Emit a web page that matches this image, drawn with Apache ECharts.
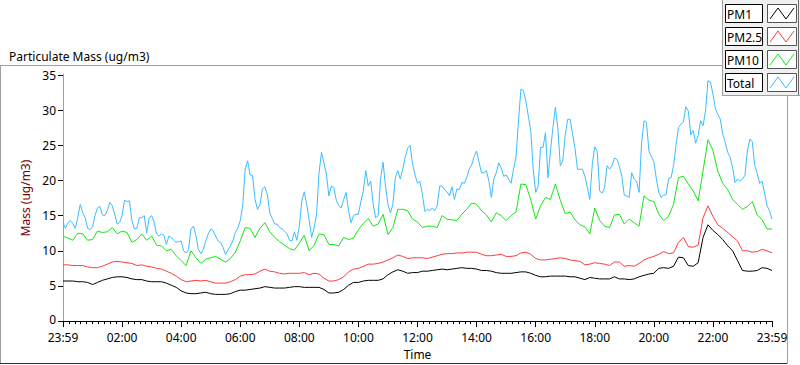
<!DOCTYPE html>
<html>
<head>
<meta charset="utf-8">
<script src="https://cdn.jsdelivr.net/npm/echarts@6/dist/echarts.min.js"></script>
<style>
html,body{margin:0;padding:0;background:#fff;}
#c{width:800px;height:365px;}
</style>
</head>
<body>
<div id="c"></div>
<script>
// ---- data (minutes since start of day, values in ug/m3) ----
var seriesNames = ['PM1', 'PM2.5', 'PM10', 'Total'];
var seriesColors = ['#000000', '#ff3c3c', '#14e614', '#3cbcff'];
var tickLabels = ['23:59','02:00','04:00','06:00','08:00','10:00','12:00','14:00','16:00','18:00','20:00','22:00','23:59'];
var stepPM1 = 10, stepPM25 = 10, stepPM10 = 10, stepTotal = 5;

var pm1 = [5.7,5.7,5.7,5.6,5.6,5.5,5.2,5.5,5.8,6.0,6.2,6.3,6.3,6.2,6.0,5.9,5.9,5.7,5.6,5.6,5.6,5.4,5.1,4.8,4.3,4.0,3.9,3.9,4.0,4.1,3.9,3.8,3.8,3.8,3.9,4.2,
4.4,4.4,4.5,4.6,4.7,4.9,4.8,4.7,4.7,4.7,4.8,4.9,4.9,4.8,4.8,4.8,4.8,4.5,4.0,4.0,4.1,4.5,5.1,5.5,5.5,5.7,5.8,5.8,5.8,6.0,6.6,7.0,7.3,7.1,6.8,6.9,
6.9,7.1,7.1,7.2,7.3,7.4,7.3,7.4,7.5,7.6,7.5,7.5,7.4,7.2,7.2,7.1,6.9,6.8,6.8,6.8,6.9,7.0,7.0,6.8,6.5,6.3,6.3,6.4,6.4,6.4,6.4,6.3,6.3,6.1,5.9,6.2,
6.1,6.0,6.0,6.0,6.3,6.0,6.0,5.9,6.0,6.3,6.5,6.7,6.8,7.5,7.6,7.5,7.8,9.1,9.0,7.9,7.8,8.3,11.9,13.7,12.9,12.3,11.6,10.7,10.0,8.6,7.2,7.1,7.1,7.2,7.6,7.5,7.2];

var pm25 = [8.0,8.0,7.9,7.9,7.9,7.7,7.6,7.6,7.8,8.1,8.4,8.5,8.4,8.3,8.2,7.9,8.0,7.8,7.7,7.5,7.4,7.1,6.8,6.4,5.9,5.6,5.7,5.8,5.7,5.8,5.6,5.4,5.4,5.4,5.6,5.9,
6.4,6.6,6.6,6.7,7.1,7.4,7.1,7.0,6.8,6.7,6.8,6.8,6.8,6.9,6.6,6.8,6.7,6.1,5.7,5.7,5.9,6.3,7.0,7.4,7.5,7.8,8.1,8.1,8.2,8.4,8.7,9.0,9.4,9.2,8.9,9.0,
9.0,9.0,8.9,9.1,9.3,9.5,9.6,9.6,9.7,9.7,9.8,9.8,9.8,9.5,9.3,9.3,9.4,9.5,9.2,9.2,9.3,9.7,9.8,9.5,8.9,8.7,8.7,8.8,8.9,9.0,8.9,8.7,8.6,8.5,8.0,8.1,
8.3,8.2,8.1,7.9,8.4,8.4,7.8,7.9,7.8,8.2,8.7,9.0,9.2,9.5,9.9,9.6,9.7,11.2,11.9,10.6,10.5,10.8,14.7,16.4,14.9,13.7,13.2,12.6,12.0,11.4,10.0,10.0,9.8,9.9,10.2,10.0,9.7];

var pm10 = [12.1,11.8,11.5,12.5,12.4,11.5,11.6,12.8,12.6,12.7,13.3,12.4,12.8,12.6,11.2,11.6,12.4,11.5,12.1,10.8,10.7,10.0,10.2,9.3,8.6,7.9,10.0,9.0,8.2,8.8,9.0,9.2,8.8,8.4,8.9,9.8,
11.4,13.3,13.2,11.9,13.2,14.0,12.7,11.9,11.3,10.8,10.3,10.1,11.1,12.2,10.0,10.8,12.4,12.3,10.9,10.9,10.7,11.9,11.6,11.8,13.0,13.9,14.6,13.5,13.8,15.2,12.3,13.3,15.9,15.9,15.7,14.5,
14.1,13.3,13.5,13.5,13.3,15.0,14.5,14.4,14.3,15.2,15.9,16.8,16.6,15.7,15.1,14.1,15.4,15.0,14.3,15.0,15.5,19.5,19.4,17.3,14.5,16.4,17.6,17.3,19.5,17.2,15.3,15.5,14.4,13.7,13.4,12.4,
16.1,14.3,13.5,13.3,15.1,15.2,13.8,14.5,14.0,13.5,17.8,17.2,17.0,15.2,14.3,14.9,16.6,20.4,20.6,19.5,18.5,17.1,21.4,25.8,24.3,21.3,19.6,18.7,17.3,16.6,15.9,16.3,17.0,15.1,14.4,13.1,13.1];

var total = [14.0,13.2,14.0,14.3,13.9,13.2,14.7,16.6,15.4,14.7,
13.2,13.0,13.4,15.0,16.1,16.3,15.1,15.0,15.7,16.9,
16.4,15.2,13.8,14.0,15.0,17.2,17.0,17.1,14.3,13.1,
13.2,14.7,14.7,15.0,12.5,14.7,15.0,14.1,12.4,12.1,
12.4,12.2,10.9,12.1,11.9,11.5,11.2,11.3,11.4,10.0,
9.7,10.2,13.1,13.5,12.1,10.2,9.6,10.2,11.4,12.4,
13.1,12.8,12.1,11.4,11.2,10.5,9.5,10.1,10.7,11.4,
12.6,13.2,
14.3,16.4,21.6,22.8,20.8,20.7,17.3,15.9,16.5,18.8,
19.1,18.0,15.4,14.6,13.8,13.8,13.3,13.1,12.8,12.4,
11.5,11.4,12.7,11.5,13.5,17.1,18.4,16.6,14.3,11.9,
13.3,15.2,21.1,24.0,22.5,20.9,17.8,19.2,19.0,17.2,
16.4,16.1,17.3,18.3,15.7,14.0,15.0,15.2,15.2,17.0,
18.5,21.4,19.2,19.9,16.6,14.7,15.0,20.2,22.6,19.2,
16.6,15.4,16.6,20.4,21.4,20.2,21.6,23.3,24.6,25.0,
22.3,20.8,
19.6,19.9,18.0,15.6,15.9,15.7,16.1,15.7,16.4,19.2,
19.2,18.7,18.4,17.8,19.1,17.3,18.8,18.7,19.7,19.6,
20.4,21.6,22.2,23.4,24.2,22.6,21.1,21.1,21.4,19.9,
17.6,20.2,21.1,22.5,21.8,20.6,20.8,20.2,19.6,21.6,
23.3,28.3,33.0,32.8,31.3,29.2,27.1,21.6,18.3,19.2,
24.7,24.7,26.8,20.4,24.2,27.5,30.4,27.5,22.1,22.8,
26.4,28.7,28.7,26.6,24.5,21.6,21.6,21.6,20.6,19.0,
17.3,22.3,
24.8,24.1,18.5,18.2,19.0,22.1,21.6,22.1,23.2,23.0,
22.0,20.6,17.9,17.8,17.6,21.1,20.2,19.9,18.3,25.2,
28.5,28.3,24.2,23.4,22.7,20.3,18.3,17.6,17.9,18.0,
20.3,20.4,22.1,25.0,27.5,28.0,28.3,30.5,29.9,26.5,
27.1,25.3,26.4,28.5,27.8,29.9,34.2,34.0,32.3,30.2,
29.4,28.7,26.6,25.4,24.0,23.3,21.8,19.7,20.2,19.9,
20.2,20.7,24.2,25.9,25.5,22.1,21.0,19.6,19.9,18.2,
16.4,15.7,14.5];

var seriesValues = [pm1, pm25, pm10, total];
var seriesSteps = [stepPM1, stepPM25, stepPM10, stepTotal];

function toPairs(arr, step) {
  return arr.map(function (v, i) { return [i * step, v]; });
}

var FONT = 'Noto Sans';
var chart = echarts.init(document.getElementById('c'), null, {renderer: 'svg'});

// legend drawn as LabVIEW-style plot legend
var legendGraphics = [
  {type: 'rect', shape: {x: 722, y: 0, width: 78, height: 95}, style: {fill: '#f0f0f0', stroke: null}, z: 100},
  {type: 'line', shape: {x1: 722.5, y1: 0, x2: 722.5, y2: 95}, style: {stroke: '#a0a0a0', lineWidth: 1}, z: 101},
  {type: 'line', shape: {x1: 722, y1: 95.5, x2: 800, y2: 95.5}, style: {stroke: '#a0a0a0', lineWidth: 1}, z: 101},
  {type: 'line', shape: {x1: 798.5, y1: 0, x2: 798.5, y2: 95}, style: {stroke: '#696969', lineWidth: 1}, z: 101}
];
seriesNames.forEach(function (name, i) {
  var y0 = 4 + i * 23;
  legendGraphics.push(
    {type: 'rect', shape: {x: 725.5, y: y0 + 0.5, width: 37, height: 18}, style: {fill: '#fff', stroke: '#000', lineWidth: 1}, z: 102},
    {type: 'text', x: 727, y: y0 + 10, style: {text: name, font: '12px "' + FONT + '"', fill: '#000', textVerticalAlign: 'middle', verticalAlign: 'middle'}, z: 103},
    {type: 'rect', shape: {x: 767.5, y: y0 + 0.5, width: 29, height: 18}, style: {fill: '#fff', stroke: '#555', lineWidth: 1}, z: 102},
    {type: 'polyline', shape: {points: [[770, y0 + 15], [778, y0 + 4], [786, y0 + 15], [794, y0 + 4]]}, style: {stroke: seriesColors[i], lineWidth: 1, fill: null}, z: 103}
  );
});

var frameGraphics = [
  {type: 'line', shape: {x1: 0, y1: 65.5, x2: 722, y2: 65.5}, style: {stroke: '#a0a0a0', lineWidth: 1}, z: 1},
  {type: 'line', shape: {x1: 0.5, y1: 65, x2: 0.5, y2: 364}, style: {stroke: '#a0a0a0', lineWidth: 1}, z: 1},
  {type: 'line', shape: {x1: 0, y1: 363.5, x2: 788, y2: 363.5}, style: {stroke: '#303030', lineWidth: 1}, z: 1},
  {type: 'line', shape: {x1: 787.5, y1: 95, x2: 787.5, y2: 364}, style: {stroke: '#a0a0a0', lineWidth: 1}, z: 1}
];

var option = {
  animation: false,
  backgroundColor: '#fff',
  textStyle: {fontFamily: FONT},
  title: {
    text: 'Particulate Mass (ug/m3)', left: 4, top: 45,
    textStyle: {fontSize: 12, fontWeight: 'normal', color: '#000', fontFamily: FONT}
  },
  grid: {left: 63, right: 28, top: 75, bottom: 43, containLabel: false},
  xAxis: [{
    type: 'value', min: 0, max: 1440, interval: 120, position: 'bottom',
    name: 'Time', nameLocation: 'middle', nameGap: 26,
    nameTextStyle: {color: '#000', fontSize: 12, fontFamily: FONT},
    axisLine: {show: true, lineStyle: {color: '#a0a0a0', width: 1}},
    axisTick: {show: true, length: 6, lineStyle: {color: '#000'}},
    minorTick: {show: true, splitNumber: 10, length: 3, lineStyle: {color: '#000'}},
    axisLabel: {show: true, margin: 10, color: '#000', fontSize: 12, lineHeight: 12, fontFamily: FONT,
      showMinLabel: true, showMaxLabel: true,
      formatter: function (v) { return tickLabels[Math.round(v / 120)]; }},
    splitLine: {show: false}
  }, {
    type: 'value', min: 0, max: 1440, position: 'top',
    axisLine: {show: true, lineStyle: {color: '#000', width: 1}},
    axisTick: {show: false}, axisLabel: {show: false}, splitLine: {show: false}
  }],
  yAxis: [{
    type: 'value', min: 0, max: 35, interval: 5, position: 'left',
    name: 'Mass (ug/m3)', nameLocation: 'middle', nameGap: 22, nameRotate: 90,
    nameTextStyle: {color: '#7a0000', fontSize: 12, fontFamily: FONT},
    axisLine: {show: true, lineStyle: {color: '#000', width: 1}},
    axisTick: {show: true, length: 5, lineStyle: {color: '#000'}},
    axisLabel: {show: true, margin: 7, color: '#000', fontSize: 12, lineHeight: 12, fontFamily: FONT,
      formatter: function (v) { return v === 0 ? '{z|0}' : String(v); },
      rich: {z: {fontSize: 12, lineHeight: 12, color: '#000', fontFamily: FONT, padding: [0, 0, 4, 0]}}},
    splitLine: {show: false}
  }, {
    type: 'value', min: 0, max: 35, position: 'right',
    axisLine: {show: true, lineStyle: {color: '#a0a0a0', width: 1}},
    axisTick: {show: false}, axisLabel: {show: false}, splitLine: {show: false}
  }],
  legend: {show: false},
  series: seriesNames.map(function (name, i) {
    return {
      name: name, type: 'line', xAxisIndex: 0, yAxisIndex: 0,
      data: toPairs(seriesValues[i], seriesSteps[i]),
      showSymbol: false, symbol: 'none',
      lineStyle: {color: seriesColors[i], width: 1},
      itemStyle: {color: seriesColors[i]},
      z: 2 + i
    };
  }),
  graphic: frameGraphics.concat(legendGraphics)
};
chart.setOption(option);
</script>
</body>
</html>
